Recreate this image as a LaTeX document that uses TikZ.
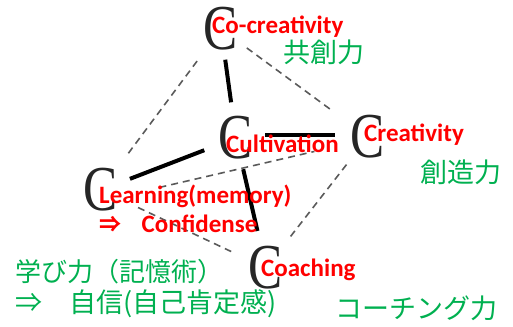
\documentclass[tikz,border=0pt]{standalone}
\usepackage{fontspec}
\usepackage{xcolor}
\usetikzlibrary{positioning}
\newfontfamily\lblfont{Carlito}
\newfontfamily\jpfont{Noto Sans CJK JP}
\newfontfamily\cfont{Liberation Serif}
\newcommand{\bigCee}{\scalebox{0.8}[1]{C}}
\definecolor{cRed}{HTML}{FF0000}
\definecolor{cGreen}{HTML}{00B050}
\definecolor{cGray}{HTML}{5A5A5A}

\begin{document}
\begin{tikzpicture}[x=1pt, y=1pt,
  bigC/.style={inner sep=0pt, text=black!85, font=\cfont\fontsize{64}{64}\selectfont},
  redlbl/.style={anchor=west, inner sep=0pt, text=cRed,
                 font=\lblfont\bfseries\fontsize{25}{25}\selectfont},
  jplbl/.style={anchor=west, inner sep=0pt, text=cGreen,
                font=\jpfont\fontsize{27}{27}\selectfont},
  strong/.style={line width=4pt, draw=black},
  weak/.style={line width=1.6pt, draw=cGray, dash pattern=on 7pt off 5pt},
]
\useasboundingbox (0,0) rectangle (513,326);
% the five C's
\node[bigC] (cc) at (221,297) {\bigCee};
\node[bigC] (cu) at (236,188) {\bigCee};
\node[bigC] (cr) at (368,189) {\bigCee};
\node[bigC] (le) at (101,136) {\bigCee};
\node[bigC] (co) at (266,58) {\bigCee};

\draw[strong, shorten <=31pt, shorten >=36pt] (cc.center) -- (cu.center);
\draw[strong, shorten <=29pt, shorten >=33pt] ([yshift=3pt]cu.center) -- ([yshift=2pt]cr.center);
\draw[strong, shorten <=34pt, shorten >=31pt] (cu.center) -- (le.center);
\draw[strong, shorten <=32pt, shorten >=38pt] (cu.center) -- (co.center);

\draw[weak, shorten <=40pt, shorten >=45pt] (cc.center) -- (le.center);
\draw[weak, shorten <=32pt, shorten >=43pt] (cc.center) -- (cr.center);
\draw[weak, shorten <=60pt, shorten >=55pt] ([yshift=-11pt]le.center) -- ([yshift=-2pt]cr.center);
\draw[weak, shorten <=41pt, shorten >=37pt] (le.center) -- (co.center);
\draw[weak, shorten <=35pt, shorten >=37pt] (cr.center) -- (co.center);

% English labels
\node[redlbl] (lcc) at (212,299) {Co-creativity};
\node[redlbl] (lcu) at (226,182) {Cultivation};
\node[redlbl] (lcr) at (364,191) {Creativity};
\node[redlbl] (lle) at (99,130) {Learning(memory)};
\node[redlbl, font=\jpfont\bfseries\fontsize{22}{22}\selectfont] (arr) at (99,102) {⇒};
\node[redlbl, right=20pt of arr.east, anchor=west] (lconf) {Confidense};
\node[redlbl] (lco) at (261,56) {Coaching};

% Japanese labels
\node[jplbl] (jcc) at (283,274) {共創力};
\node[jplbl] (jcr) at (420,154) {創造力};
\node[jplbl, font=\jpfont\fontsize{26}{26}\selectfont] (jle) at (15,54) {学び力（記憶術）};
\node[jplbl] (jconf) at (15,22) {⇒　自信(自己肯定感)};
\node[jplbl] (jco) at (335,18) {コーチング力};
\end{tikzpicture}
\end{document}
